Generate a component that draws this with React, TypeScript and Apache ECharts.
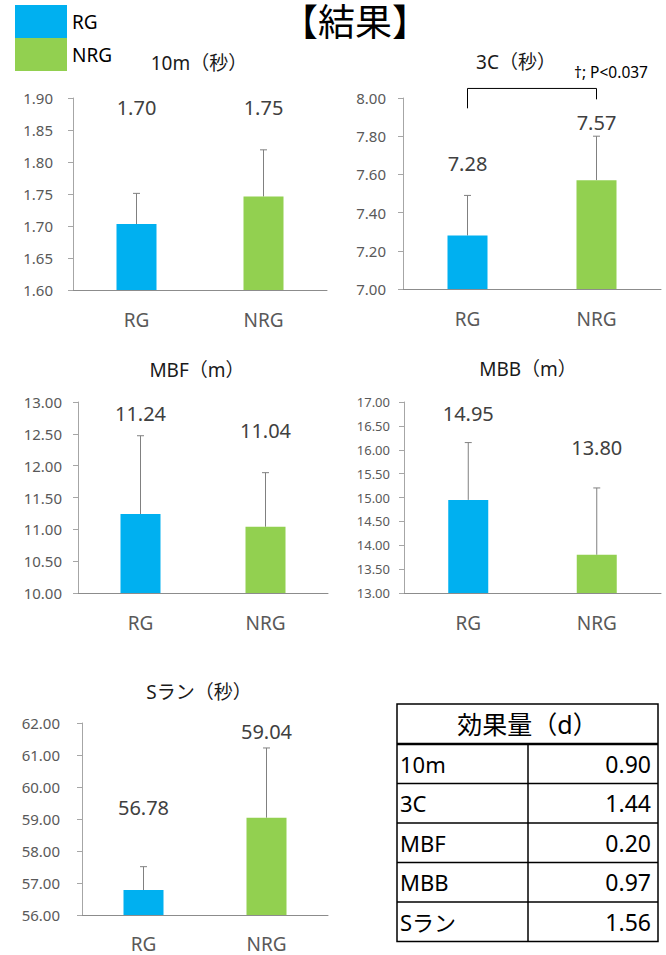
import React, { useEffect, useRef } from "react";
import * as echarts from "echarts";

const FONT = "'Noto Sans', 'Noto Sans CJK JP', sans-serif";

// ---- data ----
const categories = ["RG", "NRG"];
const chartTitles = ["10m（秒）", "3C（秒）", "MBF（m）", "MBB（m）", "Sラン（秒）"];
const rgMeans = [1.703, 7.28, 11.24, 14.95, 56.78];
const nrgMeans = [1.746, 7.57, 11.04, 13.8, 59.04];
const rgSD = [0.048, 0.21, 1.23, 1.2, 0.73];
const nrgSD = [0.073, 0.23, 0.85, 1.4, 2.18];
const axisMin = [1.6, 7.0, 10, 13, 56];
const axisMax = [1.9, 8.0, 13, 17, 62];
const axisStep = [0.05, 0.2, 0.5, 0.5, 1];
// where the mean labels sit (in axis units)
const rgLabelAt = [1.885, 7.657, 12.82, 16.76, 59.37];
const nrgLabelAt = [1.885, 7.87, 12.55, 16.05, 61.74];
// significance bracket on 3C
const bracketTop = 8.05;
const bracketLeftEnd = 7.946;
const bracketRightEnd = 7.993;
const sigText = "†; P<0.037";
// effect size table
const effectHeader = "効果量（d）";
const effectNames = ["10m", "3C", "MBF", "MBB", "Sラン"];
const effectValues = [0.9, 1.44, 0.2, 0.97, 1.56];

// ---- layout ----
const grids = [
  { left: 73, top: 98, width: 254, height: 192 },
  { left: 403, top: 98, width: 258, height: 191 },
  { left: 78, top: 402, width: 250, height: 191 },
  { left: 404, top: 402, width: 257, height: 191 },
  { left: 82, top: 723, width: 246, height: 192 },
];
const titlePos = [
  [199, 63],
  [516, 62],
  [197, 370],
  [528, 369],
  [199, 692],
];
const yLabelMargin = [20, 17, 16, 14, 22];
const yLabelSize = [15, 15, 15, 13, 15];
const xLabelMargin = [20, 20, 20, 20, 19];

const BLUE = "#00B0F0";
const GREEN = "#92D050";

function makeText(text: string, x: number, y: number, size: number, align: string, color = "#1a1a1a") {
  return {
    type: "text",
    x,
    y,
    silent: true,
    style: {
      text,
      fontSize: size,
      fontFamily: FONT,
      fill: color,
      align,
      verticalAlign: "middle",
      textAlign: align,
      textVerticalAlign: "middle",
    },
  };
}

export default function App() {
  const ref = useRef<HTMLDivElement>(null);
  useEffect(() => {
    document.body.style.margin = "0";
    if (!ref.current) return;
    const chart = echarts.init(ref.current, undefined, { renderer: "svg" });

    const xAxis: any[] = [];
    const yAxis: any[] = [];
    const series: any[] = [];

    grids.forEach((g, i) => {
      xAxis.push({
        type: "category",
        gridIndex: i,
        data: categories,
        axisLine: { lineStyle: { color: "#8c8c8c", width: 1 } },
        axisTick: { show: false },
        axisLabel: { color: "#595959", fontSize: 19, fontFamily: FONT, margin: xLabelMargin[i] },
      });
      yAxis.push({
        type: "value",
        gridIndex: i,
        min: axisMin[i],
        max: axisMax[i],
        interval: axisStep[i],
        splitLine: { show: false },
        axisLine: { show: true, lineStyle: { color: "#a6a6a6" } },
        axisTick: { show: true, length: 5, lineStyle: { color: "#a6a6a6" } },
        axisLabel: {
          color: "#595959",
          fontSize: yLabelSize[i],
          fontFamily: FONT,
          margin: yLabelMargin[i],
          formatter: (v: number) => v.toFixed(2),
        },
      });
      series.push({
        type: "bar",
        name: "RG",
        xAxisIndex: i,
        yAxisIndex: i,
        barWidth: 40,
        barGap: "-100%",
        itemStyle: { color: BLUE },
        data: [rgMeans[i], "-"],
      });
      series.push({
        type: "bar",
        name: "NRG",
        xAxisIndex: i,
        yAxisIndex: i,
        barWidth: 40,
        barGap: "-100%",
        itemStyle: { color: GREEN },
        data: ["-", nrgMeans[i]],
      });
      series.push({
        type: "custom",
        name: "err" + i,
        xAxisIndex: i,
        yAxisIndex: i,
        clip: false,
        silent: true,
        data: [
          [0, rgMeans[i], rgSD[i], rgLabelAt[i]],
          [1, nrgMeans[i], nrgSD[i], nrgLabelAt[i]],
        ],
        encode: { x: 0, y: 1 },
        renderItem: (params: any, api: any) => {
          const x = api.value(0);
          const m = api.value(1);
          const sd = api.value(2);
          const ly = api.value(3);
          const p0 = api.coord([x, m]);
          const p1 = api.coord([x, m + sd]);
          const pl = api.coord([x, ly]);
          const st = { stroke: "#808080", lineWidth: 1 };
          return {
            type: "group",
            children: [
              { type: "line", shape: { x1: p0[0], y1: p0[1], x2: p1[0], y2: p1[1] }, style: st },
              { type: "line", shape: { x1: p1[0] - 3.5, y1: p1[1], x2: p1[0] + 3.5, y2: p1[1] }, style: st },
              {
                type: "text",
                x: pl[0],
                y: pl[1],
                style: {
                  text: m.toFixed(2),
                  fontSize: 20,
                  fontFamily: FONT,
                  fill: "#404040",
                  align: "center",
                  verticalAlign: "middle",
                  textAlign: "center",
                  textVerticalAlign: "middle",
                },
              },
            ],
          };
        },
      });
    });

    // significance bracket on the 3C chart
    series.push({
      type: "custom",
      name: "bracket",
      xAxisIndex: 1,
      yAxisIndex: 1,
      clip: false,
      silent: true,
      data: [[0, 1, bracketTop, bracketLeftEnd, bracketRightEnd]],
      renderItem: (params: any, api: any) => {
        const a = api.value(0);
        const b = api.value(1);
        const top = api.value(2);
        const pA = api.coord([a, api.value(3)]);
        const pAT = api.coord([a, top]);
        const pBT = api.coord([b, top]);
        const pB = api.coord([b, api.value(4)]);
        return {
          type: "polyline",
          shape: { points: [pA, pAT, pBT, pB] },
          style: { stroke: "#000", lineWidth: 1, fill: "none" },
        };
      },
    });

    const graphics: any[] = [];
    graphics.push(makeText("【結果】", 355, 21, 37, "center", "#000"));
    chartTitles.forEach((t, i) => {
      graphics.push(makeText(t, titlePos[i][0], titlePos[i][1], 19, "center", "#1a1a1a"));
    });
    graphics.push(makeText(sigText, 574, 72, 15.5, "left", "#000"));

    // effect size table
    const tL = 397, tR = 658, tT = 704, hB = 744, rowH = 39.5, colX = 528;
    const tB = hB + rowH * effectNames.length;
    graphics.push({
      type: "rect",
      shape: { x: tL, y: tT, width: tR - tL, height: tB - tT },
      style: { fill: "#fff", stroke: "#000", lineWidth: 1.5 },
    });
    graphics.push({
      type: "line",
      shape: { x1: tL, y1: hB, x2: tR, y2: hB },
      style: { stroke: "#000", lineWidth: 2.5 },
    });
    graphics.push({
      type: "line",
      shape: { x1: colX, y1: hB, x2: colX, y2: tB },
      style: { stroke: "#000", lineWidth: 1.5 },
    });
    for (let r = 1; r < effectNames.length; r++) {
      const y = hB + rowH * r;
      graphics.push({
        type: "line",
        shape: { x1: tL, y1: y, x2: tR, y2: y },
        style: { stroke: "#000", lineWidth: 1.5 },
      });
    }
    graphics.push(makeText(effectHeader, (tL + tR) / 2, (tT + hB) / 2, 25, "center", "#000"));
    effectNames.forEach((n, r) => {
      const cy = hB + rowH * r + rowH / 2;
      graphics.push(makeText(n, tL + 3, cy, 22, "left", "#000"));
      graphics.push(makeText(effectValues[r].toFixed(2), tR - 7, cy, 23, "right", "#000"));
    });

    chart.setOption({
      animation: false,
      backgroundColor: "#fff",
      textStyle: { fontFamily: FONT },
      legend: {
        data: ["RG", "NRG"],
        orient: "vertical",
        left: 15,
        top: 5,
        padding: 0,
        itemWidth: 52,
        itemHeight: 33,
        itemGap: 0,
        icon: "rect",
        selectedMode: false,
        textStyle: { fontSize: 19, color: "#000", fontFamily: FONT },
      },
      grid: grids.map((g) => ({ ...g, containLabel: false })),
      xAxis,
      yAxis,
      series,
      graphic: graphics,
    });
    return () => chart.dispose();
  }, []);
  return (
    <div
      ref={ref}
      style={{ width: 666, height: 955, position: "absolute", left: 0, top: 0 }}
    />
  );
}
